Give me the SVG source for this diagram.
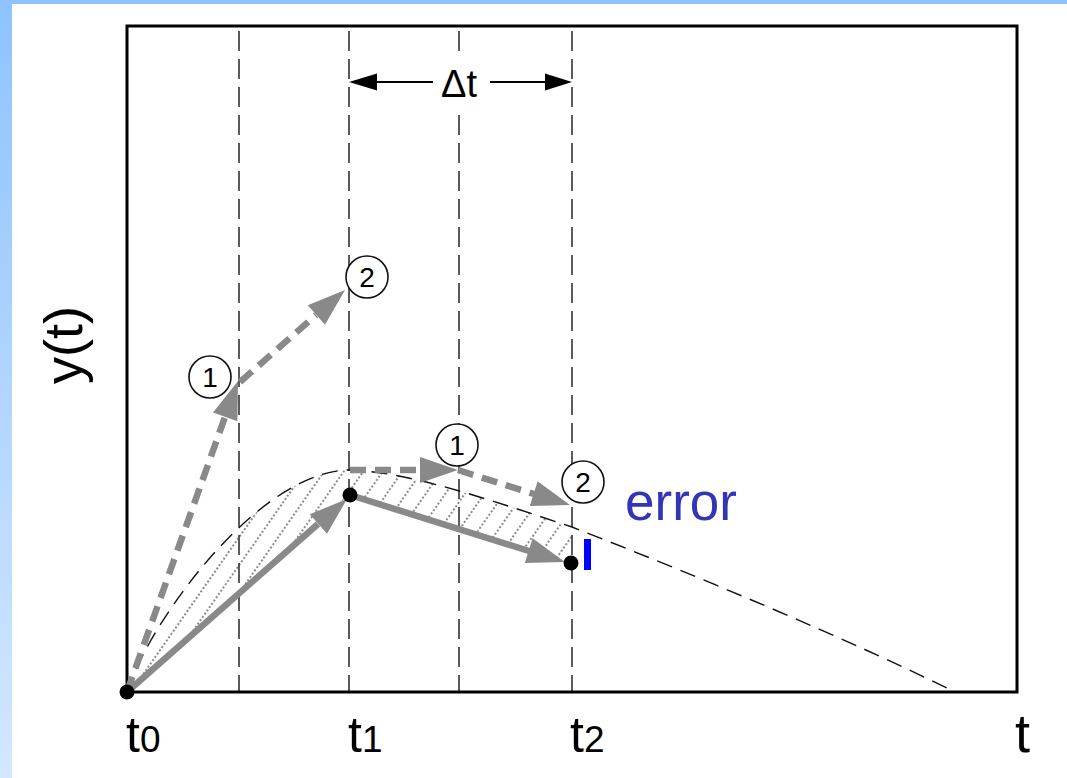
<svg xmlns="http://www.w3.org/2000/svg" width="1067" height="778" viewBox="0 0 1067 778">
<style>
.vline{stroke:#333;stroke-width:1.6;stroke-dasharray:20 8;fill:none}
.curve{stroke:#111;stroke-width:1.4;stroke-dasharray:16 9;fill:none}
.gd{stroke:#898989;stroke-width:6.5;stroke-dasharray:16 9;fill:none}
.gs{stroke:#898989;stroke-width:6.5;fill:none}
.head{fill:#898989}
.dot{fill:#000}
.ring{fill:#fff;stroke:#111;stroke-width:1.6}
.num{font-family:"Liberation Sans",Arial,sans-serif;font-size:28px;fill:#000;text-anchor:middle}
.ax{font-family:"Liberation Sans",Arial,sans-serif;fill:#000}
</style>
<defs>
<linearGradient id="side" x1="0" y1="0" x2="0" y2="1">
<stop offset="0" stop-color="#8ec3ff"/>
<stop offset="1" stop-color="#d3e7ff"/>
</linearGradient>
<pattern id="hatch" width="16" height="16" patternUnits="userSpaceOnUse" patternTransform="rotate(35)">
<line x1="8" y1="0" x2="8" y2="16" stroke="#666" stroke-width="1.5" stroke-dasharray="2 2"/>
</pattern>
</defs>
<rect x="0" y="0" width="1067" height="778" fill="#fff"/>
<rect x="0" y="0" width="1067" height="4" fill="#8ec3ff"/>
<rect x="0" y="0" width="12" height="778" fill="url(#side)"/>

<g id="hatching">
<path d="M127,692 C150,620 260,470 350,470 L349,495 Z" fill="url(#hatch)"/>
<path d="M350,470 C410,472 490,500 572,527 L572,562 L349,495 Z" fill="url(#hatch)"/>
</g>

<g id="gridlines">
<line class="vline" x1="239" y1="31" x2="239" y2="692"/>
<line class="vline" x1="349" y1="31" x2="349" y2="692"/>
<line class="vline" x1="459" y1="31" x2="459" y2="692"/>
<line class="vline" x1="572" y1="31" x2="572" y2="692"/>
</g>

<g id="frame">
<rect x="127" y="26" width="890" height="666" fill="none" stroke="#000" stroke-width="3"/>
</g>

<g id="exact-curve">
<path class="curve" d="M127,692 C150,620 260,470 350,470 C410,472 490,500 572,527 C700,577 850,640 955,692"/>
</g>

<g id="connectors">
<line class="gd" x1="127" y1="692" x2="225" y2="417"/>
<polygon class="head" points="238,381 237.4,421.2 213,412.4"/>
<line class="gd" x1="240" y1="382" x2="316" y2="315"/>
<polygon class="head" points="345,290 325,324.8 307.8,305.2"/>
<line class="gd" x1="350" y1="470" x2="420" y2="470"/>
<polygon class="head" points="458,470 420,457 420,483"/>
<line class="gd" x1="458" y1="470" x2="534" y2="494"/>
<polygon class="head" points="570,505 529.8,506.1 537.6,481.3"/>
<line class="gs" x1="127" y1="692" x2="318" y2="524"/>
<polygon class="head" points="347,499 327,533.8 309.8,514.2"/>
<line class="gs" x1="350" y1="495" x2="529" y2="551"/>
<polygon class="head" points="565,562 524.8,563.1 532.6,538.3"/>
</g>

<g id="points">
<circle class="dot" cx="127" cy="692" r="7.5"/>
<circle class="dot" cx="350" cy="495" r="7.5"/>
<circle class="dot" cx="571" cy="563" r="7.5"/>
</g>

<g id="step-labels">
<g id="c1a"><circle class="ring" cx="210" cy="377" r="21"/><text class="num" x="210" y="387">1</text></g>
<g id="c2a"><circle class="ring" cx="367" cy="277" r="21"/><text class="num" x="367" y="287">2</text></g>
<g id="c1b"><circle class="ring" cx="457" cy="445" r="21"/><text class="num" x="457" y="455">1</text></g>
<g id="c2b"><circle class="ring" cx="583" cy="482" r="21"/><text class="num" x="583" y="492">2</text></g>
</g>

<g id="delta-t">
<rect x="434" y="53" width="50" height="59" fill="#fff"/>
<line x1="374" y1="82" x2="433" y2="82" stroke="#000" stroke-width="2"/>
<polygon points="349,82 377,73.5 377,90.5" fill="#000"/>
<line x1="490" y1="82" x2="547" y2="82" stroke="#000" stroke-width="2"/>
<polygon points="572,82 545,73.5 545,90.5" fill="#000"/>
<text class="ax" x="459" y="97" font-size="38" text-anchor="middle">Δt</text>
</g>

<g id="error">
<rect x="584" y="539" width="7" height="31" fill="#0000ff"/>
<text x="625" y="520" font-family="Liberation Sans, Arial, sans-serif" font-size="53" fill="#3434b8">error</text>
</g>

<g id="axis-labels">
<text class="ax" x="82" y="345" font-size="54" text-anchor="middle" transform="rotate(-90 82 345)">y(t)</text>
<text class="ax" x="126" y="752" font-size="50">t<tspan font-size="37">0</tspan></text>
<text class="ax" x="348" y="752" font-size="50">t<tspan font-size="37">1</tspan></text>
<text class="ax" x="570" y="752" font-size="50">t<tspan font-size="37">2</tspan></text>
<text class="ax" x="1015" y="752" font-size="54">t</text>
</g>
</svg>
